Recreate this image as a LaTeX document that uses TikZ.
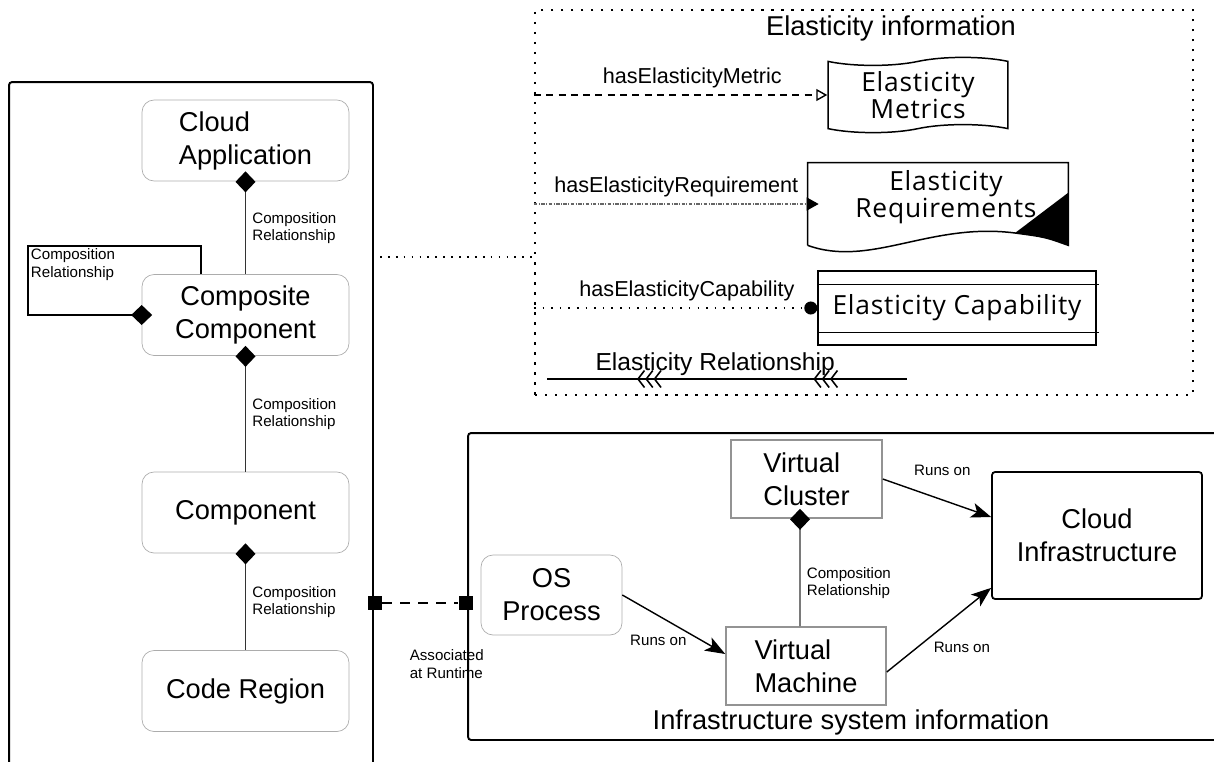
\documentclass[tikz,border=0pt]{standalone}
\usepackage{fontspec}
\setmainfont{Liberation Sans}
\newfontfamily\elfont{Open Sans}[LetterSpace=3]
\usetikzlibrary{arrows.meta,shapes.symbols,decorations.markings}

\begin{document}
\begin{tikzpicture}[x=0.02cm, y=-0.02cm,
  box node/.style={draw=gray!65, rounded corners=0.24cm, minimum width=4.14cm, minimum height=1.62cm, align=center, font=\fontsize{15.5}{18.8}\selectfont},
  plain node/.style={draw=gray!85, line width=0.9pt, minimum height=1.56cm, align=left, font=\fontsize{15.5}{18.8}\selectfont},
  outer frame/.style={draw, line width=1.1pt, rounded corners=0.06cm},
  box title/.style={font=\fontsize{15.5}{18}\selectfont},
  small label/.style={font=\fontsize{8.6}{9.8}\selectfont, align=left, inner sep=3.5pt},
  has label/.style={font=\fontsize{12.3}{14}\selectfont},
  el node/.style={font=\elfont\fontsize{15}{18}\selectfont, align=center},
  compo/.style={draw=black!80, line width=0.8pt, arrows={Diamond[length=0.42cm,width=0.4cm,black]-}, shorten <=-0.2cm},
  runs/.style={draw, line width=0.8pt, arrows={-Stealth[length=0.4cm,width=0.3cm,inset=0.1cm]}},
  rel line/.style={line width=0.9pt, postaction={decorate}, decoration={markings,
    mark=at position 0.25 with {\arrowreversed{Straight Barb[length=0.13cm,width=0.34cm] Straight Barb[length=0.13cm,width=0.34cm] Straight Barb[length=0.13cm,width=0.34cm]}},
    mark=at position 0.74 with {\arrowreversed{Straight Barb[length=0.13cm,width=0.34cm] Straight Barb[length=0.13cm,width=0.34cm] Straight Barb[length=0.13cm,width=0.34cm]}}}}]
\useasboundingbox (0,0) rectangle (1214,761);
\clip (0,0) rectangle (1214,761);

\node[outer frame, minimum width=7.28cm, minimum height=14.36cm] (appbox) at (191,441) {};
\node[outer frame, minimum width=15.84cm, minimum height=6.14cm] (infbox) at (864,586.5) {};
\node[draw, line width=1.3pt, dash pattern=on 1.3pt off 4.4pt, minimum width=13.16cm, minimum height=7.7cm] (elbox) at (864,202.5) {};

\node[box node, align=left] (app) at (245.5,140.5) {Cloud\\Application};
\node[box node] (comp) at (245.5,315) {Composite\\Component};
\node[box node] (cpt) at (245.5,512.5) {Component};
\node[box node] (code) at (245.5,691) {Code Region};

\path
(app) edge[compo] node[right, small label] {Composition\\Relationship} (comp)
(comp) edge[compo] node[right, small label] {Composition\\Relationship} (cpt)
(cpt) edge[compo] node[right, small label] {Composition\\Relationship} (code);
\draw[black, line width=0.8pt, -{Diamond[length=0.42cm,width=0.4cm]}, shorten >=-0.21cm] ([xshift=-0.89cm]comp.north) |- (28,246) coordinate (loopc) |- (comp.west);
\node[small label, anchor=north west, inner sep=1.5pt] (looplbl) at (loopc) {Composition\\Relationship};

\coordinate (lnk) at (380,257);
\draw[line width=1pt, dash pattern=on 1pt off 3.5pt] (lnk) -- (lnk -| elbox.west);

\node[box title] (ellbl) at (891,28) {Elasticity information};
\node[tape, draw, line width=0.85pt, tape bend height=0.16cm, minimum width=3.6cm, minimum height=1.4cm, el node] (em) at (918,95) {Elasticity\\[-2.5pt]Metrics};
\node[minimum width=5.2cm, minimum height=1.64cm] (er) at (938,204) {};
\node[el node] (ertext) at (946,197) {Elasticity\\[-3pt]Requirements};
\draw[line width=0.85pt] (er.south west) -- (er.north west) -- (er.north east) -- (er.south east) .. controls (1045,237) .. (1015,233) .. controls (930,222) and (870,268) .. (er.south west);
\fill (1015,233) -- ([yshift=-0.6cm]er.north east) -- (er.south east) .. controls (1045,237) .. (1015,233) -- cycle;
\node[draw, line width=0.85pt, minimum width=5.56cm, minimum height=1.48cm, el node] (ec) at (957,308) {Elasticity Capability};
\draw[line width=0.85pt] ([yshift=-0.28cm]ec.north west) -- ([yshift=-0.28cm, xshift=0.04cm]ec.north east);
\draw[line width=0.85pt] ([yshift=0.26cm]ec.south west) -- ([yshift=0.26cm, xshift=0.04cm]ec.south east);

\draw[line width=0.8pt, dash pattern=on 4pt off 3pt, -{Triangle[open,length=0.22cm,width=0.24cm]}] (elbox.west |- em.west) -- (em.west) node[pos=0.54, above, has label] {hasElasticityMetric};
\draw[gray!80!black, line width=0.8pt, dash pattern=on 2pt off 0.8pt on 0.6pt off 0.8pt, -{Triangle[length=0.24cm,width=0.26cm,black]}, shorten >=-0.22cm] (elbox.west |- er.west) -- (er.west) node[pos=0.52, above, has label, black] {hasElasticityRequirement};
\draw[line width=0.9pt, dash pattern=on 0.9pt off 4pt, -{Circle[length=0.26cm]}] (elbox.west |- ec.west) -- (ec.west) node[pos=0.54, above, has label] {hasElasticityCapability};

\coordinate (rl) at (547,379);
\coordinate (rr) at (907,379);
\draw[rel line] (rl) -- (rr) node[pos=0.467, above=-0.06cm, font=\fontsize{14}{16}\selectfont] {Elasticity Relationship};

\node[box node, minimum width=2.82cm, minimum height=1.6cm] (osp) at (551.5,595) {OS\\Process};
\node[plain node, minimum width=3.02cm] (vc) at (806.5,479) {Virtual\\Cluster};
\node[plain node, minimum width=3.2cm] (vm) at (806,666) {Virtual\\Machine};
\node[draw, line width=1pt, rounded corners=0.06cm, minimum width=4.2cm, minimum height=2.54cm, align=center, font=\fontsize{15.5}{18.8}\selectfont] (ci) at (1097,535.5) {Cloud\\Infrastructure};
\node[box title] (inflbl) at (851,722) {Infrastructure system information};

\draw[compo] ([xshift=-0.13cm]vc.south) -- ([xshift=-0.12cm]vm.north) node[pos=0.6, right, small label] {Composition\\Relationship};
\draw[runs] (osp.east) -- ([yshift=0.24cm]vm.west) node[pos=0.35, below=0.25cm, small label] {Runs on};
\draw[runs] (vc.east) -- ([yshift=0.37cm]ci.west) node[pos=0.55, above=0.34cm, small label] {Runs on};
\draw[runs] ([yshift=-0.12cm]vm.east) -- ([yshift=0.24cm]ci.south west) node[pos=0.72, below=0.48cm, small label] {Runs on};

\node[fill, minimum size=0.28cm, inner sep=0pt] (sql) at (375,603) {};
\node[fill, minimum size=0.28cm, inner sep=0pt] (sqr) at (465.5,603) {};
\draw[line width=1pt, dash pattern=on 0.2cm off 0.16cm] (sql) -- (sqr) node[pos=0.85, below=0.8cm, small label] {Associated\\at Runtime};
\end{tikzpicture}
\end{document}
